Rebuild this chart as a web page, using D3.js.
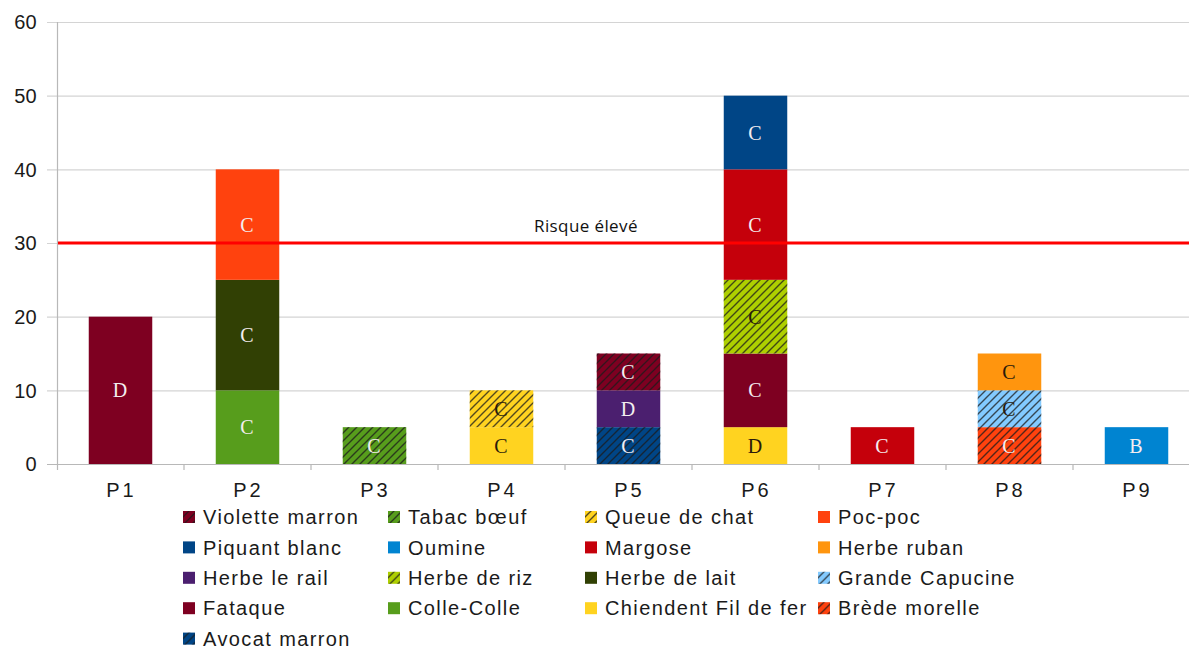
<!DOCTYPE html>
<html>
<head>
<meta charset="utf-8">
<script src="https://cdn.jsdelivr.net/npm/d3@7/dist/d3.min.js"></script>
<style>
  body { margin: 0; background: #fff; }
  svg { display: block; }
</style>
</head>
<body>
<svg id="chart" width="1189" height="650"></svg>
<script>
// plots
const categories = ['P1', 'P2', 'P3', 'P4', 'P5', 'P6', 'P7', 'P8', 'P9'];

// species, in legend order
const species = [
  'Violette marron', 'Tabac bœuf', 'Queue de chat', 'Poc-poc',
  'Piquant blanc', 'Oumine', 'Margose', 'Herbe ruban',
  'Herbe le rail', 'Herbe de riz', 'Herbe de lait', 'Grande Capucine',
  'Fataque', 'Colle-Colle', 'Chiendent Fil de fer', 'Brède morelle',
  'Avocat marron'
];

// cover per species and plot (P1..P9)
const values = [
  [0, 0, 0, 0, 5, 0, 0, 0, 0],    // Violette marron
  [0, 0, 5, 0, 0, 0, 0, 0, 0],    // Tabac boeuf
  [0, 0, 0, 5, 0, 0, 0, 0, 0],    // Queue de chat
  [0, 15, 0, 0, 0, 0, 0, 0, 0],   // Poc-poc
  [0, 0, 0, 0, 0, 10, 0, 0, 0],   // Piquant blanc
  [0, 0, 0, 0, 0, 0, 0, 0, 5],    // Oumine
  [0, 0, 0, 0, 0, 15, 5, 0, 0],   // Margose
  [0, 0, 0, 0, 0, 0, 0, 5, 0],    // Herbe ruban
  [0, 0, 0, 0, 5, 0, 0, 0, 0],    // Herbe le rail
  [0, 0, 0, 0, 0, 10, 0, 0, 0],   // Herbe de riz
  [0, 15, 0, 0, 0, 0, 0, 0, 0],   // Herbe de lait
  [0, 0, 0, 0, 0, 0, 0, 5, 0],    // Grande Capucine
  [20, 0, 0, 0, 0, 10, 0, 0, 0],  // Fataque
  [0, 10, 0, 0, 0, 0, 0, 0, 0],   // Colle-Colle
  [0, 0, 0, 5, 0, 5, 0, 0, 0],    // Chiendent Fil de fer
  [0, 0, 0, 0, 0, 0, 0, 5, 0],    // Brède morelle
  [0, 0, 0, 0, 5, 0, 0, 0, 0]     // Avocat marron
];

// class letter written in each segment
const classes = [
  ['', '', '', '', 'C', '', '', '', ''],
  ['', '', 'C', '', '', '', '', '', ''],
  ['', '', '', 'C', '', '', '', '', ''],
  ['', 'C', '', '', '', '', '', '', ''],
  ['', '', '', '', '', 'C', '', '', ''],
  ['', '', '', '', '', '', '', '', 'B'],
  ['', '', '', '', '', 'C', 'C', '', ''],
  ['', '', '', '', '', '', '', 'C', ''],
  ['', '', '', '', 'D', '', '', '', ''],
  ['', '', '', '', '', 'C', '', '', ''],
  ['', 'C', '', '', '', '', '', '', ''],
  ['', '', '', '', '', '', '', 'C', ''],
  ['D', '', '', '', '', 'C', '', '', ''],
  ['', 'C', '', '', '', '', '', '', ''],
  ['', '', '', 'C', '', 'D', '', '', ''],
  ['', '', '', '', '', '', '', 'C', ''],
  ['', '', '', '', 'C', '', '', '', '']
];

const yTicks = [0, 10, 20, 30, 40, 50, 60];
const riskLevel = 30;
const riskLabel = 'Risque élevé';

// look
const colors = [
  '#7e0021', '#579d1c', '#ffd320', '#ff420e',
  '#004586', '#0084d1', '#c5000b', '#ff950e',
  '#4b1f6f', '#aecf00', '#314004', '#83caff',
  '#7e0021', '#579d1c', '#ffd320', '#ff420e',
  '#004586'
];
const hatched = [true, true, true, false, false, false, false, false,
  false, true, false, true, false, false, false, true, true];
const darkText = ['#ffd320', '#ff950e', '#83caff', '#aecf00'];

const svg = d3.select('#chart');
const margin = {left: 57, top: 22, bottom: 464};

const x = d3.scaleBand()
  .domain(categories)
  .range([margin.left, margin.left + 127 * 9])
  .paddingInner(0.5)
  .paddingOuter(0.25);

const y = d3.scaleLinear()
  .domain([0, 60])
  .range([margin.bottom, margin.top]);

// hatch pattern (lines only, laid over the fill)
const defs = svg.append('defs');
defs.append('pattern')
  .attr('id', 'hatch')
  .attr('patternUnits', 'userSpaceOnUse')
  .attr('width', 8)
  .attr('height', 8)
  .append('path')
  .attr('d', 'M-1,1 l2,-2 M0,8 l8,-8 M7,9 l2,-2')
  .attr('stroke', '#1b1b1b')
  .attr('stroke-opacity', 0.75)
  .attr('stroke-width', 1.4);

// grid
svg.append('g')
  .selectAll('line')
  .data(yTicks)
  .join('line')
  .attr('x1', margin.left - 10)
  .attr('x2', 1189)
  .attr('y1', d => y(d) + 0.5)
  .attr('y2', d => y(d) + 0.5)
  .attr('stroke', d => d === 0 ? '#b8b8b8' : '#d4d4d4')
  .attr('stroke-width', 1.2);

// y axis line
svg.append('line')
  .attr('x1', margin.left + 0.5)
  .attr('x2', margin.left + 0.5)
  .attr('y1', y(60))
  .attr('y2', y(0) + 6)
  .attr('stroke', '#b8b8b8')
  .attr('stroke-width', 1.2);

svg.append('g')
  .selectAll('text')
  .data(yTicks)
  .join('text')
  .attr('x', 37)
  .attr('y', d => y(d))
  .attr('dy', '0.36em')
  .attr('text-anchor', 'end')
  .attr('font-family', 'Liberation Sans, Arial, sans-serif')
  .attr('font-size', 20)
  .attr('letter-spacing', 0.3)
  .attr('fill', '#1a1a1a')
  .text(d => d);

// x ticks between plots
const step = x.step();
svg.append('g')
  .selectAll('line')
  .data(d3.range(1, categories.length + 1))
  .join('line')
  .attr('x1', i => margin.left + i * step)
  .attr('x2', i => margin.left + i * step)
  .attr('y1', y(0))
  .attr('y2', y(0) + 6)
  .attr('stroke', '#b8b8b8')
  .attr('stroke-width', 1.2);

svg.append('g')
  .selectAll('text')
  .data(categories)
  .join('text')
  .attr('x', d => x(d) + x.bandwidth() / 2 + 1)
  .attr('y', 497)
  .attr('text-anchor', 'middle')
  .attr('font-family', 'Liberation Sans, Arial, sans-serif')
  .attr('font-size', 20)
  .attr('letter-spacing', 3)
  .attr('fill', '#1a1a1a')
  .text(d => d);

// stacked bars: last legend entry sits at the bottom
const rows = categories.map((c, ci) => {
  const row = {cat: c};
  species.forEach((s, si) => { row[s] = values[si][ci]; });
  return row;
});
const stack = d3.stack().keys(species.slice().reverse())(rows);

const segs = [];
stack.forEach(layer => {
  const si = species.indexOf(layer.key);
  layer.forEach((d, ci) => {
    if (d[1] - d[0] > 0) {
      segs.push({si, ci, y0: d[0], y1: d[1]});
    }
  });
});

const bars = svg.append('g');
bars.selectAll('rect.fill')
  .data(segs)
  .join('rect')
  .attr('class', 'fill')
  .attr('x', d => x(categories[d.ci]))
  .attr('width', x.bandwidth())
  .attr('y', d => y(d.y1))
  .attr('height', d => y(d.y0) - y(d.y1))
  .attr('fill', d => colors[d.si]);

bars.selectAll('rect.hatch')
  .data(segs.filter(d => hatched[d.si]))
  .join('rect')
  .attr('class', 'hatch')
  .attr('x', d => x(categories[d.ci]))
  .attr('width', x.bandwidth())
  .attr('y', d => y(d.y1))
  .attr('height', d => y(d.y0) - y(d.y1))
  .attr('fill', 'url(#hatch)');

bars.selectAll('text')
  .data(segs)
  .join('text')
  .attr('x', d => x(categories[d.ci]) + x.bandwidth() / 2)
  .attr('y', d => y((d.y0 + d.y1) / 2))
  .attr('dy', '0.35em')
  .attr('text-anchor', 'middle')
  .attr('font-family', 'Liberation Serif, Times New Roman, serif')
  .attr('font-size', 20)
  .attr('letter-spacing', 1)
  .attr('fill', d => darkText.includes(colors[d.si]) ? '#2a1a0a' : '#f4eef0')
  .text(d => classes[d.si][d.ci]);

// high risk threshold
svg.append('line')
  .attr('x1', margin.left + 1)
  .attr('x2', 1189)
  .attr('y1', y(riskLevel))
  .attr('y2', y(riskLevel))
  .attr('stroke', '#ff0000')
  .attr('stroke-width', 3);

svg.append('text')
  .attr('x', 534)
  .attr('y', y(riskLevel) - 11)
  .attr('font-family', 'Open Sans, sans-serif')
  .attr('font-size', 17)
  .attr('letter-spacing', 0.4)
  .attr('fill', '#111')
  .text(riskLabel);

// legend, 4 columns
const colX = [183, 388, 585, 818];
const legend = svg.append('g')
  .selectAll('g')
  .data(species)
  .join('g')
  .attr('transform', (d, i) => `translate(${colX[i % 4]},${517 + Math.floor(i / 4) * 30.4})`);

legend.append('rect')
  .attr('x', 0)
  .attr('y', -6)
  .attr('width', 12)
  .attr('height', 12)
  .attr('fill', (d, i) => colors[i]);

legend.filter((d, i) => hatched[i])
  .append('rect')
  .attr('x', 0)
  .attr('y', -6)
  .attr('width', 12)
  .attr('height', 12)
  .attr('fill', 'url(#hatch)');

legend.append('text')
  .attr('x', 20)
  .attr('dy', '0.36em')
  .attr('font-family', 'Liberation Sans, Arial, sans-serif')
  .attr('font-size', 20)
  .attr('letter-spacing', 1.4)
  .attr('fill', '#1a1a1a')
  .text(d => d);
</script>
</body>
</html>
